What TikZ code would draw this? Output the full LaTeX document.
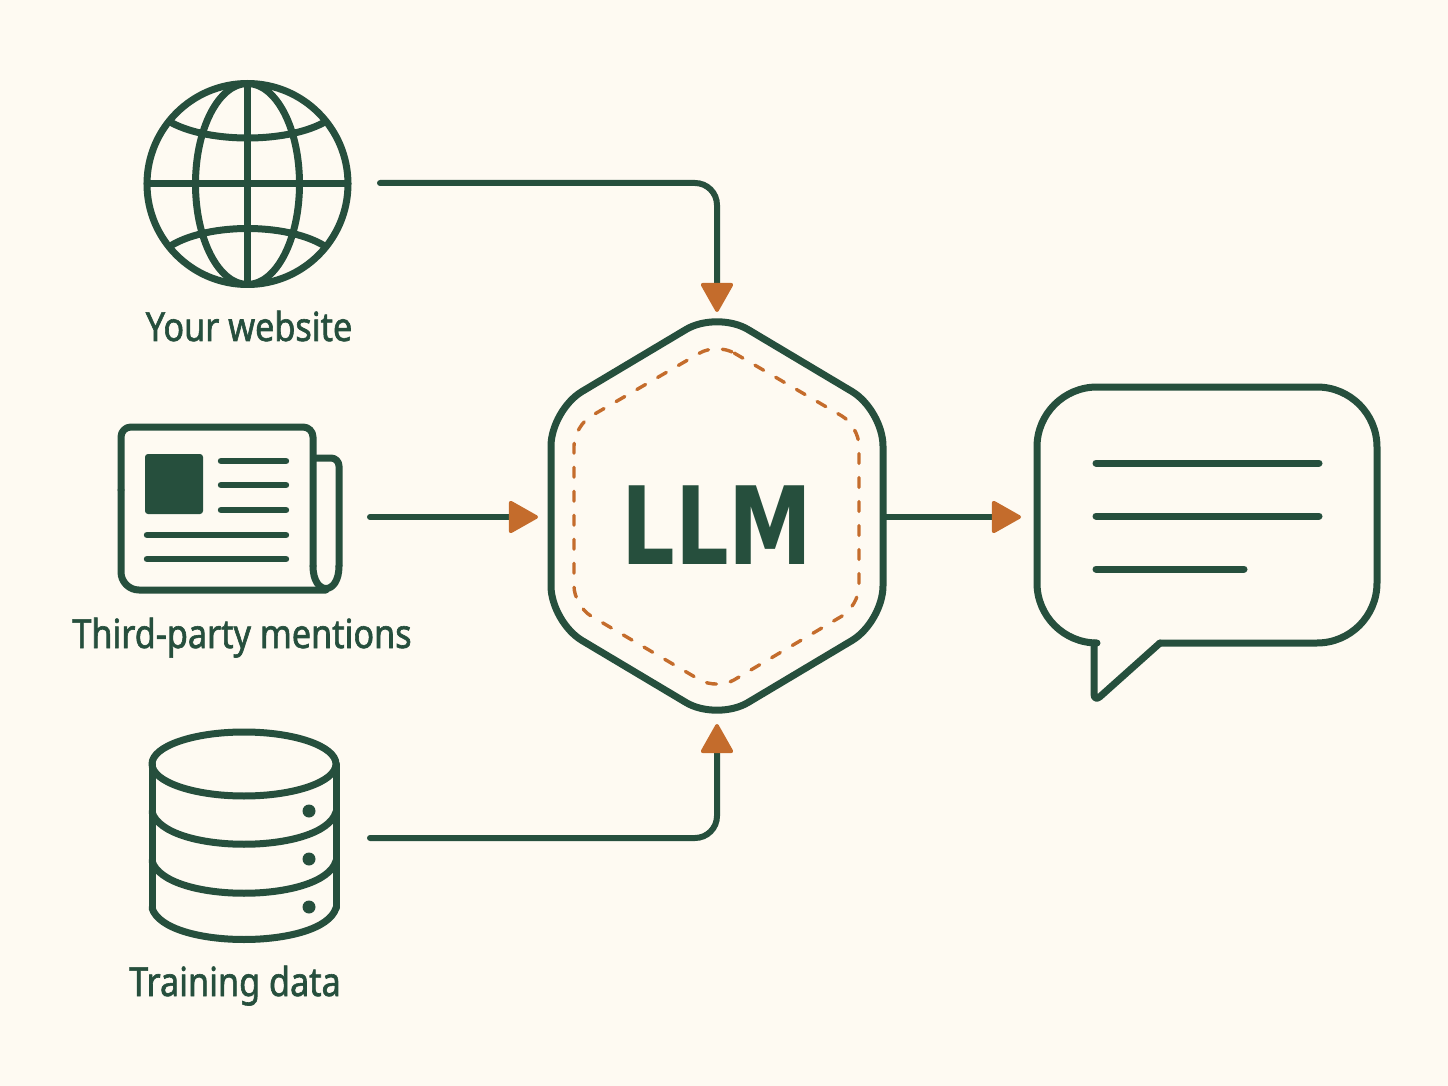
\documentclass[tikz,border=0pt]{standalone}
\usepackage{fontspec}
\usetikzlibrary{arrows.meta}
\setmainfont{Noto Sans}
\newfontfamily\labfont[FakeStretch=0.855,FakeBold=1.5]{Noto Sans}
\newfontfamily\llmfont[FakeStretch=0.78]{DejaVu Sans}
\definecolor{pine}{HTML}{264F3D}
\definecolor{rust}{HTML}{C46C2C}
\definecolor{paper}{HTML}{FEFAF2}
\tikzset{
  x=0.5pt,y=-0.5pt,
  icon/.style={draw=pine,line width=3.5pt,line cap=round,line join=round},
  thin rule/.style={draw=pine,line width=3.2pt,line cap=round},
  flow/.style={draw=pine,line width=3pt,line cap=round,rounded corners=11pt,
    -{Triangle[length=15.5pt,width=17pt,line width=1.8pt,round,color=rust,fill=rust]}},
  lab/.style={text=pine,anchor=base,font=\labfont\fontsize{20}{24}\selectfont,inner sep=0pt},
}
\begin{document}
\begin{tikzpicture}
\fill[paper] (0,0) rectangle (1448,1086);
\useasboundingbox (0,0) rectangle (1448,1086);
% named anchors
\coordinate (webout) at (380,183);
\coordinate (newsout) at (370,517);
\coordinate (dataout) at (370,838);
\coordinate (hextop) at (717,312);
\coordinate (hexbot) at (717,724);
\coordinate (hexleft) at (538,517);
\coordinate (hexright) at (885,517);
\coordinate (bubbleleft) at (1021,517);
% globe
\draw[icon] (247.5,184) circle [radius=100.5];
\draw[icon] (247.5,184) ellipse [x radius=52,y radius=100.5];
\draw[icon] (247.5,84) -- (247.5,284);
\draw[icon] (147,184) -- (348,184);
\draw[icon] (172,123) .. controls (210,143) and (285,143) .. (323,123);
\draw[icon] (172,245) .. controls (210,223) and (285,223) .. (323,245);
\node[lab] (weblabel) at (249,341) {Your website};
% newspaper
\draw[icon,rounded corners=9pt] (326,590) -- (121,590) -- (121,490);
\draw[icon,rounded corners=5pt] (121,490) -- (121,427) -- (313,427) -- (313,566);
\draw[icon] (313,566) .. controls (313,596) and (339,596) .. (339,566);
\draw[icon,rounded corners=4pt] (339,566) -- (339,458) -- (314,458);
\fill[pine,rounded corners=1.5pt] (145,454) rectangle (203,514);
\draw[thin rule] (221,461) -- (286,461);
\draw[thin rule] (221,485) -- (286,485);
\draw[thin rule] (221,510) -- (286,510);
\draw[thin rule] (147,535) -- (286,535);
\draw[thin rule] (147,559) -- (286,559);
\node[lab] (newslabel) at (242,648) {Third-party mentions};
% database
\draw[icon] (244,764) ellipse [x radius=92,y radius=32];
\draw[icon] (152,764) -- (152,908);
\draw[icon] (336,764) -- (336,908);
\draw[icon] (152,812) .. controls (165,855) and (323,855) .. (336,812);
\draw[icon] (152,861) .. controls (165,904) and (323,904) .. (336,861);
\draw[icon] (152,908) .. controls (165,950) and (323,950) .. (336,908);
\fill[pine] (309,811) circle [radius=6.5];
\fill[pine] (309,859) circle [radius=6.5];
\fill[pine] (309,907) circle [radius=6.5];
\node[lab] (datalabel) at (235,996) {Training data};
% hexagon
\draw[icon,rounded corners=18pt] (717,311) -- (883,410) -- (883,622) -- (717,721) -- (551,622) -- (551,410) -- cycle;
\draw[draw=rust,line width=1.7pt,line cap=round,dash pattern=on 5pt off 7pt,rounded corners=10pt]
  (717,343) -- (859,426) -- (859,606) -- (717,690) -- (574,606) -- (574,426) -- cycle;
\node[text=pine,inner sep=0pt,anchor=base,font=\llmfont\bfseries\fontsize{54}{60}\selectfont] (llm) at (717,564) {LLM};
% bubble
\draw[icon,rounded corners=30pt] (1160,643) -- (1377,643) -- (1377,387) -- (1037,387) -- (1037,643) -- (1094,643);
\draw[icon,rounded corners=4pt] (1094,643) -- (1094,702) -- (1160,643);
\draw[thin rule,line width=3.5pt] (1096,463) -- (1319,463);
\draw[thin rule,line width=3.5pt] (1096,516) -- (1319,516);
\draw[thin rule,line width=3.5pt] (1096,569) -- (1244,569);
% connectors
\draw[flow] (webout) -| (hextop);
\draw[flow] (newsout) -- (hexleft);
\draw[flow] (dataout) -| (hexbot);
\draw[flow] (hexright) -- (bubbleleft);
\end{tikzpicture}
\end{document}
